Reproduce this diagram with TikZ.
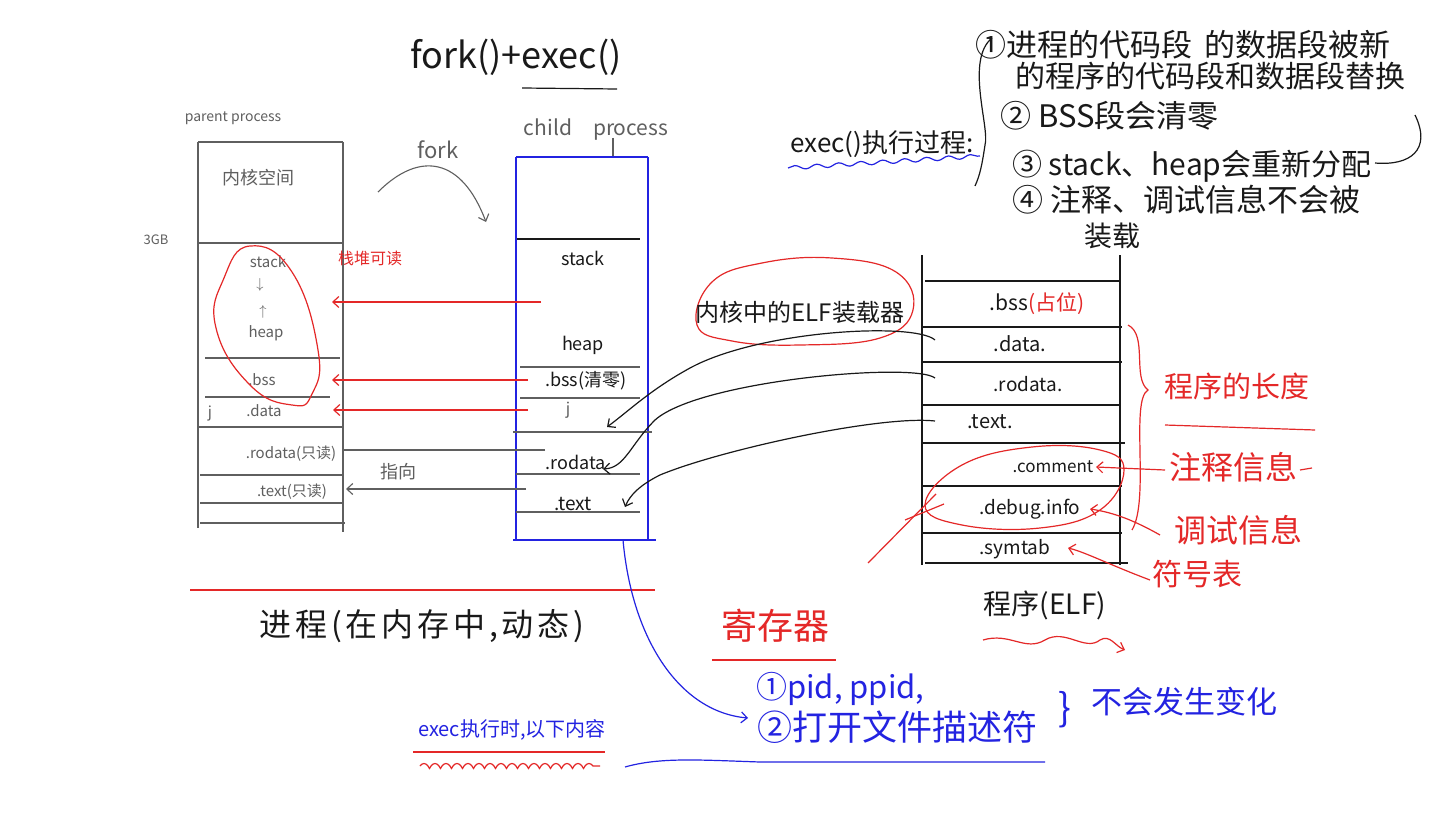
\documentclass[tikz,border=0pt]{standalone}
\usepackage{fontspec}
\setmainfont{Noto Sans CJK SC}
\usetikzlibrary{arrows.meta,decorations.pathmorphing}
\definecolor{hred}{RGB}{228,40,40}
\definecolor{hblue}{RGB}{35,35,225}
\definecolor{hgray}{RGB}{95,95,95}
\definecolor{hblack}{RGB}{25,25,25}
\begin{document}
\begin{tikzpicture}[x=1pt,y=-1pt,
  lbl/.style={inner sep=0pt, text=hblack},
  pline/.style={draw=hgray, line width=1.1pt},
  bline/.style={draw=hblack, line width=1.2pt},
  cbox/.style={draw=hblue, line width=2.4pt},
  redpen/.style={draw=hred, line width=1.2pt},
  bluepen/.style={draw=hblue, line width=1.2pt},
  blackpen/.style={draw=hblack, line width=1.2pt},
  barb/.style={-{Straight Barb[length=6pt,width=11pt]}},
  wavy/.style={decorate, decoration={snake, amplitude=2pt, segment length=22pt}}
]
\useasboundingbox (0,0) rectangle (1440,824);
\fill[white] (0,0) rectangle (1440,824);

% ---------- title ----------
\node[lbl, font=\fontsize{36}{38}\selectfont] (title) at (516,57) {fork()+exec()};
\coordinate (tul1) at (522,88); \coordinate (tul2) at (617,89);
\draw[blackpen] (tul1) -- (tul2);

% ---------- parent process ----------
\node[lbl, text=hgray, font=\fontsize{14}{16}\selectfont] (plabel) at (233,118) {parent process};
\draw[pline] (198,142) -- (343,142);
\draw[pline] (198,142) -- (198,528);
\draw[pline] (343,142) -- (343,532);
\draw[pline] (198,243) -- (343,243);
\draw[pline] (205,358) -- (340,358);
\draw[pline] (205,397) -- (330,397);
\draw[pline] (198,427) -- (343,427);
\draw[pline] (200,475) -- (343,475);
\draw[pline] (200,503) -- (343,503);
\draw[pline] (200,523) -- (345,523);
\node[lbl, text=hgray, font=\fontsize{13}{15}\selectfont] (gb) at (156,240) {3GB};
\node[lbl, text=hgray, font=\fontsize{18}{20}\selectfont] (kern) at (258,178) {内核空间};
\node[lbl, text=hgray, font=\fontsize{15}{17}\selectfont] (pstack) at (268,262) {stack};
\node[lbl, text=hgray, font=\fontsize{14}{16}\selectfont] (pdown) at (260,285) {$\downarrow$};
\node[lbl, text=hgray, font=\fontsize{14}{16}\selectfont] (pup) at (263,312) {$\uparrow$};
\node[lbl, text=hgray, font=\fontsize{15}{17}\selectfont] (pheap) at (266,333) {heap};
\node[lbl, text=hgray, font=\fontsize{15}{17}\selectfont] (pbss) at (262,380) {.bss};
\node[lbl, text=hgray, font=\fontsize{15}{17}\selectfont] (pj) at (210,413) {j};
\node[lbl, text=hgray, font=\fontsize{15}{17}\selectfont] (pdata) at (264,411) {.data};
\node[lbl, text=hgray, font=\fontsize{15}{17}\selectfont] (prodata) at (291,454) {.rodata(只读)};
\node[lbl, text=hgray, font=\fontsize{15}{17}\selectfont] (ptext) at (292,492) {.text(只读)};
\draw[redpen] plot[smooth cycle, tension=0.8] coordinates {(250,246) (292,272) (318,350) (312,394) (292,405) (250,385) (216,328) (224,278)};
\node[lbl, text=hred, font=\fontsize{16}{18}\selectfont] (pred) at (370,258) {栈堆可读};

% ---------- fork arc ----------
\coordinate (fk1) at (378,192); \coordinate (fk2) at (486,222);
\draw[draw=hgray, line width=1.1pt, barb] (fk1) .. controls (420,150) and (462,158) .. (fk2);
\node[lbl, text=hgray, font=\fontsize{22}{24}\selectfont] (forklbl) at (438,150) {fork};

% ---------- child process ----------
\node[lbl, text=hgray, font=\fontsize{21}{23}\selectfont] (clabel) at (596,130) {child\quad process};
\coordinate (cl1) at (613,138); \coordinate (cl2) at (613,157);
\draw[pline] (cl1) -- (cl2);
\draw[cbox] (516,157) -- (648,157);
\draw[cbox] (516,157) -- (516,540);
\draw[cbox] (648,157) -- (648,540);
\draw[cbox] (513,540) -- (656,540);
\draw[bline] (517,239) -- (640,239);
\draw[pline] (520,367) -- (640,367);
\draw[pline] (520,398) -- (640,398);
\draw[pline] (513,432) -- (652,432);
\draw[pline] (516,474) -- (640,474);
\draw[pline] (516,512) -- (640,512);
\node[lbl, font=\fontsize{18}{20}\selectfont] (cstack) at (583,258) {stack};
\node[lbl, font=\fontsize{18}{20}\selectfont] (cheap) at (583,345) {heap};
\node[lbl, font=\fontsize{18}{20}\selectfont] (cbss) at (586,381) {.bss(清零)};
\node[lbl, text=hgray, font=\fontsize{16}{18}\selectfont] (cj) at (568,410) {j};
\node[lbl, font=\fontsize{18}{20}\selectfont] (crodata) at (576,462) {.rodata};
\node[lbl, font=\fontsize{19}{21}\selectfont] (ctext) at (573,504) {.text};

% ---------- child -> parent arrows ----------
\coordinate (ra1) at (541,302); \coordinate (rb1) at (332,302);
\coordinate (ra2) at (528,380); \coordinate (rb2) at (332,380);
\coordinate (ra3) at (528,410); \coordinate (rb3) at (333,410);
\draw[redpen, barb] (ra1) -- (rb1);
\draw[redpen, barb] (ra2) -- (rb2);
\draw[redpen, barb] (ra3) -- (rb3);
\coordinate (ga1) at (545,450); \coordinate (gb1) at (343,450);
\coordinate (ga2) at (526,489); \coordinate (gb2) at (346,489);
\draw[pline] (ga1) -- (gb1);
\draw[pline, barb] (ga2) -- (gb2);
\node[lbl, text=hgray, font=\fontsize{18}{20}\selectfont] (zhixiang) at (398,472) {指向};

% ---------- ELF loader ----------
\draw[redpen] plot[smooth cycle, tension=0.7] coordinates {(697,325) (712,282) (762,263) (832,258) (896,272) (913,310) (880,338) (800,345) (732,341)};
\node[lbl, font=\fontsize{24}{26}\selectfont] (loader) at (800,312) {内核中的ELF装载器};

% ---------- ELF program ----------
\draw[bline] (922,255) -- (922,565);
\draw[bline] (1120,255) -- (1120,565);
\draw[bline] (925,281) -- (1120,281);
\draw[bline] (922,327) -- (1122,327);
\draw[bline] (922,362) -- (1122,362);
\draw[bline] (922,405) -- (1120,405);
\draw[bline] (922,443) -- (1125,443);
\draw[bline] (922,486) -- (1122,486);
\draw[bline] (922,533) -- (1122,533);
\draw[bline] (925,563) -- (1128,563);
\node[lbl, font=\fontsize{21}{23}\selectfont] (ebss) at (1037,304) {.bss\textcolor{hred}{(占位)}};
\node[lbl, font=\fontsize{20}{22}\selectfont] (edata) at (1020,344) {.data.};
\node[lbl, font=\fontsize{19}{21}\selectfont] (erodata) at (1028,384) {.rodata.};
\node[lbl, font=\fontsize{20}{22}\selectfont] (etext) at (990,422) {.text.};
\node[lbl, font=\fontsize{17}{19}\selectfont] (ecomment) at (1053,467) {.comment};
\node[lbl, font=\fontsize{19}{21}\selectfont] (edebug) at (1030,509) {.debug.info};
\node[lbl, font=\fontsize{19}{21}\selectfont] (esymtab) at (1015,549) {.symtab};
\node[lbl, font=\fontsize{28}{30}\selectfont] (elf) at (1045,605) {程序(ELF)};
\coordinate (ew1) at (983,640); \coordinate (ew2) at (1125,650);
\draw[redpen, barb] (ew1) .. controls (1010,632) and (1025,652) .. (1045,640) .. controls (1065,628) and (1085,652) .. (1100,640) .. controls (1110,634) and (1115,646) .. (ew2);

% ELF -> child curves
\coordinate (lc1) at (935,340); \coordinate (ld1) at (607,427);
\coordinate (lc2) at (935,378); \coordinate (ld2) at (603,469);
\coordinate (lc3) at (935,421); \coordinate (ld3) at (625,507);
\draw[blackpen, barb] (lc1) .. controls (915,322) and (760,330) .. (690,368) .. controls (650,390) and (630,410) .. (ld1);
\draw[blackpen, barb] (lc2) .. controls (915,362) and (700,380) .. (655,420) .. controls (630,445) and (625,468) .. (ld2);
\draw[blackpen, barb] (lc3) .. controls (880,415) and (720,450) .. (660,475) .. controls (640,485) and (630,495) .. (ld3);

% brace and side notes
\draw[redpen] (1128,325) .. controls (1148,335) and (1132,378) .. (1148,390) .. controls (1130,400) and (1150,500) .. (1132,530);
\node[lbl, text=hred, font=\fontsize{29}{31}\selectfont] (plen) at (1237,386) {程序的长度};
\coordinate (pu1) at (1165,425); \coordinate (pu2) at (1315,430);
\draw[redpen] (pu1) -- (pu2);
\draw[redpen] plot[smooth cycle, tension=0.7] coordinates {(925,505) (962,465) (1032,447) (1100,450) (1124,470) (1100,510) (1040,528) (962,525)};
\coordinate (rl1) at (868,563); \coordinate (rl2) at (936,494);
\draw[redpen] (rl1) -- (rl2);
\coordinate (rl3) at (905,520); \coordinate (rl4) at (944,504);
\draw[redpen] (rl3) -- (rl4);
\node[lbl, text=hred, font=\fontsize{32}{34}\selectfont] (zsxx) at (1233,467) {注释信息};
\node[lbl, text=hred, font=\fontsize{32}{34}\selectfont] (tsxx) at (1238,530) {调试信息};
\node[lbl, text=hred, font=\fontsize{30}{32}\selectfont] (fhb) at (1197,574) {符号表};
\coordinate (za) at (1165,470); \coordinate (zb) at (1096,467);
\draw[redpen, barb] (za) -- (zb);
\coordinate (zc) at (1300,470); \coordinate (zd) at (1312,468);
\draw[redpen] (zc) -- (zd);
\coordinate (ta) at (1160,535) ; \coordinate (tb) at (1090,509);
\draw[redpen, barb] (ta) .. controls (1130,518) and (1110,512) .. (tb);
\coordinate (fa) at (1150,580); \coordinate (fb) at (1068,548);
\draw[redpen, barb] (fa) .. controls (1110,565) and (1085,552) .. (fb);

% ---------- exec notes (top right) ----------
\node[lbl, font=\fontsize{26}{28}\selectfont] (execproc) at (882,144) {exec()执行过程:};
\coordinate (ew3) at (788,168); \coordinate (ew4) at (980,156);
\draw[bluepen, wavy] (ew3) -- (ew4);
\draw[blackpen] (992,38) .. controls (965,60) and (990,128) .. (985,145) .. controls (982,165) and (980,175) .. (975,186);
\node[lbl, anchor=west, font=\fontsize{31}{33}\selectfont] (n1a) at (975,45) {①进程的代码段\, 的数据段被新};
\node[lbl, anchor=west, font=\fontsize{30}{32}\selectfont] (n1b) at (1015,76) {的程序的代码段和数据段替换};
\node[lbl, anchor=west, font=\fontsize{31}{33}\selectfont] (n2) at (1000,116) {② BSS段会清零};
\node[lbl, anchor=west, font=\fontsize{30}{32}\selectfont] (n3) at (1012,166) {③ stack、heap会重新分配};
\node[lbl, anchor=west, font=\fontsize{31}{33}\selectfont] (n4) at (1012,200) {④ 注释、调试信息不会被};
\node[lbl, font=\fontsize{28}{30}\selectfont] (n4b) at (1112,236) {装载};
\coordinate (cv1) at (1415,115); \coordinate (cv2) at (1375,163);
\draw[blackpen] (cv1) .. controls (1432,150) and (1410,166) .. (cv2);

% ---------- bottom left ----------
\coordinate (rh1) at (190,590); \coordinate (rh2) at (655,590);
\draw[redpen] (rh1) -- (rh2);
\node[lbl, font=\fontsize{32}{34}\selectfont\addfontfeature{LetterSpace=12}] (jincheng) at (422,626) {进程(在内存中,动态)};
\node[lbl, text=hred, font=\fontsize{36}{38}\selectfont] (reg) at (775,626) {寄存器};
\coordinate (rg1) at (712,660); \coordinate (rg2) at (836,660);
\draw[redpen] (rg1) -- (rg2);

% ---------- bottom blue notes ----------
\coordinate (cbot) at (623,540); \coordinate (ptr) at (748,718);
\draw[bluepen, barb] (cbot) .. controls (632,640) and (680,712) .. (ptr);
\node[lbl, text=hblue, font=\fontsize{20}{22}\selectfont] (exectime) at (512,730) {exec执行时,以下内容};
\coordinate (eu1) at (413,752); \coordinate (eu2) at (605,752);
\draw[redpen] (eu1) -- (eu2);
\coordinate (eu3) at (420,766); \coordinate (eu4) at (600,766);
\draw[redpen, decorate, decoration={coil, amplitude=2.5pt, segment length=11pt, aspect=0.5}] (eu3) -- (eu4);
\node[lbl, anchor=west, text=hblue, font=\fontsize{31}{33}\selectfont] (pid) at (756,689) {①pid,\ ppid,};
\node[lbl, anchor=west, text=hblue, font=\fontsize{35}{37}\selectfont] (fd) at (757,727) {②打开文件描述符};
\coordinate (fu1) at (625,767); \coordinate (fu2) at (1045,762);
\draw[bluepen] (fu1) .. controls (660,757) and (700,760) .. (760,762) -- (fu2);
\node[lbl, text=hblue, font=\fontsize{38}{40}\selectfont] (brc) at (1065,710) {\}};
\node[lbl, text=hblue, font=\fontsize{31}{33}\selectfont] (nochange) at (1184,702) {不会发生变化};
\end{tikzpicture}
\end{document}
